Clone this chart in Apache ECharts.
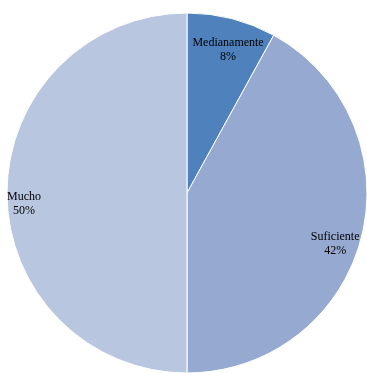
<!DOCTYPE html>
<html><head><meta charset="utf-8">
<script src="https://cdn.jsdelivr.net/npm/echarts@6/dist/echarts.min.js"></script>
<style>html,body{margin:0;padding:0;background:#fff}#c{width:367px;height:373px}</style>
</head><body><div id="c"></div>
<script>
const categories = ['Medianamente', 'Suficiente', 'Mucho'];
const values = [8, 42, 50];
const colors = ['#4F81BD', '#95A9D1', '#B9C6E0'];
const labelShift = [[3, 5], [0, 13], [-10, 11]];

const chart = echarts.init(document.getElementById('c'), null, {renderer: 'canvas'});
const pieData = categories.map((c, i) => ({name: c, value: values[i], itemStyle: {color: colors[i]}}));
const labelData = categories.map((c, i) => ({name: c, value: values[i]}));
chart.setOption({
  animation: false,
  series: [
    {
      type: 'pie', center: [187, 193], radius: 180, startAngle: 90, clockwise: true,
      itemStyle: {borderColor: '#fff', borderWidth: 1},
      label: {show: false}, labelLine: {show: false}, silent: true,
      data: pieData
    },
    {
      type: 'pie', center: [187, 193], radius: [120, 180], startAngle: 90, clockwise: true,
      itemStyle: {color: 'rgba(0,0,0,0)'}, silent: true,
      label: {show: true, position: 'inside', formatter: p => p.name + '\n' + p.value + '%',
        fontFamily: '"Liberation Serif", "Times New Roman", serif', fontSize: 12, color: '#000', lineHeight: 14, align: 'center'},
      labelLine: {show: false},
      labelLayout: p => ({dx: labelShift[p.dataIndex][0], dy: labelShift[p.dataIndex][1]}),
      data: labelData
    }
  ]
});
</script></body></html>
